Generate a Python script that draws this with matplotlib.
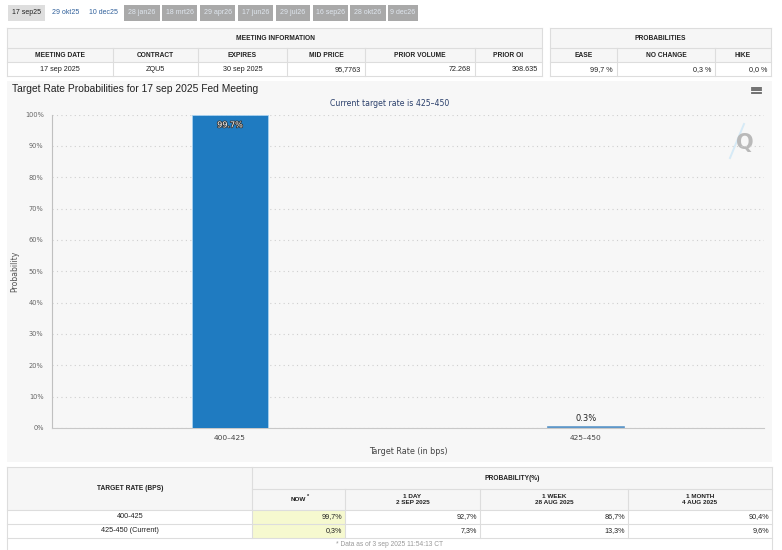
import matplotlib
matplotlib.use("Agg")
import matplotlib.pyplot as plt
from matplotlib.patches import Rectangle
from matplotlib.lines import Line2D
import matplotlib.patheffects as pe

# ---------------- data ----------------
tabs = ["17 sep25", "29 okt25", "10 dec25", "28 jan26", "18 mrt26", "29 apr26",
        "17 jun26", "29 jul26", "16 sep26", "28 okt26", "9 dec26"]
meeting_headers = ["MEETING DATE", "CONTRACT", "EXPIRES", "MID PRICE", "PRIOR VOLUME", "PRIOR OI"]
meeting_values = ["17 sep 2025", "ZQU5", "30 sep 2025", "95,7763", "72.268", "308.635"]
prob_headers = ["EASE", "NO CHANGE", "HIKE"]
prob_values = ["99,7 %", "0,3 %", "0,0 %"]

categories = ["400\u2013425", "425\u2013450"]
prob_now = [99.7, 0.3]
table_rates = ["400-425", "425-450 (Current)"]
prob_1day = [92.7, 7.3]
prob_1week = [86.7, 13.3]
prob_1month = [90.4, 9.6]
hist_headers = ["NOW", "1 DAY\n2 SEP 2025", "1 WEEK\n28 AUG 2025", "1 MONTH\n4 AUG 2025"]

W, H = 782, 550
fig = plt.figure(figsize=(W / 100, H / 100), dpi=100)
fig.patch.set_facecolor("white")

def fx(x):
    return x / W

def fy(y):
    return 1 - y / H

def rect(x0, y0, x1, y1, fc, ec="none", lw=0.8, z=-2):
    fig.patches.append(Rectangle((fx(x0), fy(y1)), fx(x1) - fx(x0), fy(y0) - fy(y1),
                                 transform=fig.transFigure, facecolor=fc, edgecolor=ec,
                                 linewidth=lw, zorder=z))

def hline(x0, x1, y, c="#dddddd", lw=0.8, z=-1):
    fig.add_artist(Line2D([fx(x0), fx(x1)], [fy(y), fy(y)], color=c, lw=lw, zorder=z))

def vline(x, y0, y1, c="#dddddd", lw=0.8, z=-1):
    fig.add_artist(Line2D([fx(x), fx(x)], [fy(y0), fy(y1)], color=c, lw=lw, zorder=z))

def txt(x, y, s, size=5.2, ha="center", color="#222222", weight="normal", family="Liberation Sans", **kw):
    fig.text(fx(x), fy(y), s, ha=ha, va="center", fontsize=size, color=color,
             fontweight=weight, family=family, **kw)

# ---------------- tabs ----------------
tab_x = [(8, 45), (48, 83), (86, 121), (124, 160), (162, 197), (200, 235),
         (238, 273), (276, 310), (313, 348), (350, 386), (388, 418)]
for i, (lab, (a, b)) in enumerate(zip(tabs, tab_x)):
    if i == 0:
        fc, tc = "#dedede", "#222222"
    elif i in (1, 2):
        fc, tc = "white", "#2f5f9a"
    else:
        fc, tc = "#a9a9a9", "#dfe6ee"
    rect(a, 5, b, 21, fc)
    txt((a + b) / 2, 13, lab, size=5.0, color=tc)

# ---------------- meeting info table ----------------
mcols = [7, 113, 198, 287, 365, 475, 542]
rect(7, 28, 542, 48, "#f6f6f6")
rect(7, 48, 542, 62, "#f6f6f6")
for y in (28, 48, 62, 76):
    hline(7, 542, y)
vline(7, 28, 76); vline(542, 28, 76)
for x in mcols[1:-1]:
    vline(x, 48, 76)
txt(275, 38.5, "MEETING INFORMATION", size=4.8, weight="bold")
for i, h in enumerate(meeting_headers):
    txt((mcols[i] + mcols[i + 1]) / 2, 55.5, h, size=4.8, weight="bold")
for i, v in enumerate(meeting_values):
    if i < 3:
        txt((mcols[i] + mcols[i + 1]) / 2, 69.5, v, size=5.2)
    else:
        txt(mcols[i + 1] - 4, 69.5, v, size=5.2, ha="right")

# ---------------- probabilities table ----------------
pcols = [550, 617, 715, 771]
rect(550, 28, 771, 48, "#f6f6f6")
rect(550, 48, 771, 62, "#f6f6f6")
for y in (28, 48, 62, 76):
    hline(550, 771, y)
vline(550, 28, 76); vline(771, 28, 76)
for x in pcols[1:-1]:
    vline(x, 48, 76)
txt(660, 38.5, "PROBABILITIES", size=4.8, weight="bold")
for i, h in enumerate(prob_headers):
    txt((pcols[i] + pcols[i + 1]) / 2, 55.5, h, size=4.8, weight="bold")
for i, v in enumerate(prob_values):
    txt(pcols[i + 1] - 4, 69.5, v, size=5.2, ha="right")

# ---------------- chart panel ----------------
rect(7, 81, 772, 462, "#f7f7f7")
txt(12, 89.5, "Target Rate Probabilities for 17 sep 2025 Fed Meeting", size=7.4, ha="left",
    color="#222222")
txt(390, 104, "Current target rate is 425\u2013450", size=5.6, color="#2a3f6b", family="DejaVu Sans")
# hamburger icon
for yy in (87.5, 90, 92.5):
    hline(752, 761, yy, c="#666666", lw=1.3, z=3)
# watermark
fig.add_artist(Line2D([fx(730), fx(744)], [fy(158), fy(124)], color="#d6eaf6", lw=1.4, zorder=1))
txt(745, 143, "Q", size=15, color="#b9b9b9", weight="bold", family="DejaVu Sans", zorder=2)

ax = fig.add_axes([fx(52), fy(428), fx(764) - fx(52), fy(114.5) - fy(428)])
ax.set_zorder(3)
ax.set_facecolor("none")
x = range(len(categories))
bars = ax.bar(x, prob_now, width=0.216, color="#1f7bc1",
              edgecolor=["#a9d2f0", "#5e97c9"], linewidth=[0.6, 1.2], zorder=3)
ax.set_xlim(-0.5, 1.5)
ax.set_ylim(0, 100)
ax.set_yticks(range(0, 101, 10))
ax.set_yticklabels([f"{v}%" for v in range(0, 101, 10)])
ax.set_xticks(list(x))
ax.set_xticklabels(categories)
ax.tick_params(axis="y", length=0, labelsize=4.8, labelcolor="#666666", pad=6)
ax.tick_params(axis="x", length=0, labelsize=5.4, labelcolor="#444444", pad=5)
for lab in ax.get_yticklabels() + ax.get_xticklabels():
    lab.set_family("DejaVu Sans")
ax.grid(axis="y", color="#cfcfcf", linestyle=(0, (1, 3)), linewidth=0.8, zorder=0)
for s in ("top", "right"):
    ax.spines[s].set_visible(False)
ax.spines["left"].set_color("#c0c0c0")
ax.spines["bottom"].set_color("#c8c8c8")
ax.spines["left"].set_linewidth(0.8)
ax.spines["bottom"].set_linewidth(0.8)
ax.set_ylabel("Probability", fontsize=5.6, color="#555555", family="DejaVu Sans", labelpad=4)
ax.set_xlabel("Target Rate (in bps)", fontsize=5.8, color="#444444", family="DejaVu Sans", labelpad=4)

for b, v in zip(bars, prob_now):
    if v > 50:
        ax.text(b.get_x() + b.get_width() / 2, v - 3.0, f"{v}%", ha="center", va="center",
                fontsize=5.8, color="white", family="DejaVu Sans", zorder=4,
                path_effects=[pe.withStroke(linewidth=1.2, foreground="#333333")])
    else:
        ax.text(b.get_x() + b.get_width() / 2, v + 2.7, f"{v}%", ha="center", va="center",
                fontsize=6.0, color="#222222", family="DejaVu Sans", zorder=4)

# ---------------- bottom table ----------------
hcols = [7, 252, 345, 480, 628, 772]
rect(7, 467, 772, 510, "#f6f6f6")
for r in range(len(table_rates)):
    y0 = 510 + 14 * r
    rect(252, y0, 345, y0 + 14, "#f6f9cf")
for y in (467, 510, 524, 538):
    hline(7, 772, y)
hline(252, 772, 489)
vline(7, 467, 550); vline(772, 467, 550)
vline(252, 467, 538)
for xx in hcols[2:-1]:
    vline(xx, 489, 538)
txt(130, 488.5, "TARGET RATE (BPS)", size=4.8, weight="bold")
txt(512, 478, "PROBABILITY(%)", size=4.8, weight="bold")
for i, h in enumerate(hist_headers):
    cx = (hcols[i + 1] + hcols[i + 2]) / 2
    if i == 0:
        txt(cx, 499.5, h, size=4.6, weight="bold")
        txt(cx + 10, 496.5, "*", size=4.0, weight="bold")
    else:
        txt(cx, 499.5, h, size=4.6, weight="bold", linespacing=1.05)
cols = [prob_now, prob_1day, prob_1week, prob_1month]
for r, rate in enumerate(table_rates):
    yc = 517 + 14 * r
    txt(130, yc, rate, size=5.2)
    for c, vals in enumerate(cols):
        txt(hcols[c + 2] - 3, yc, f"{vals[r]:.1f}%".replace(".", ","), size=5.2, ha="right")
txt(390, 545, "* Data as of 3 sep 2025 11:54:13 CT", size=4.8, color="#999999")

fig.savefig("out.png", dpi=100, facecolor="white")
